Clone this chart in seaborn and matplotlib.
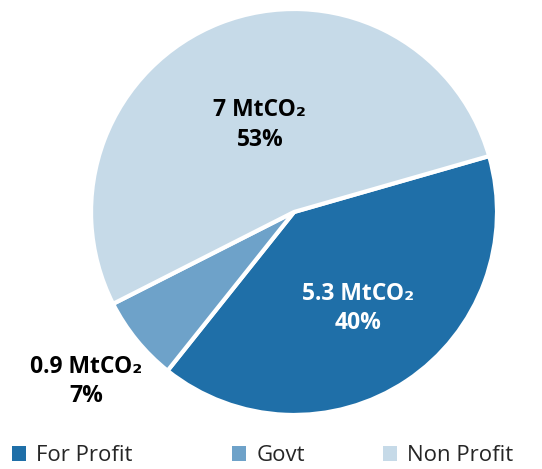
import numpy as np
import matplotlib
matplotlib.use("Agg")
import matplotlib.pyplot as plt
import seaborn as sns
from matplotlib.patches import Patch

# data
sectors = ["For Profit", "Govt", "Non Profit"]
emissions = [5.3, 0.9, 7.0]          # MtCO2
emission_labels = ["5.3", "0.9", "7"]
percent_labels = ["40%", "7%", "53%"]
colors = ["#1f6fa8", "#6ea2c9", "#c6dae8"]

sns.set_theme(style="white")
plt.rcParams["font.family"] = ["Open Sans", "DejaVu Sans"]

fig = plt.figure(figsize=(5.42, 4.69), dpi=100)
ax = fig.add_axes([0.168, 0.115, 0.749, 0.866])

wedges, _ = ax.pie(emissions, colors=colors, startangle=16, counterclock=False,
                   wedgeprops=dict(edgecolor="white", linewidth=3))
ax.set_xlim(-1, 1)
ax.set_ylim(-1, 1)
ax.set_aspect("equal")

# label distance / text colour per slice
label_r = [0.57, 1.32, 0.46]
text_col = ["white", "black", "black"]
for w, em, pc, r, tc in zip(wedges, emission_labels, percent_labels, label_r, text_col):
    mid = np.deg2rad((w.theta1 + w.theta2) / 2)
    x, y = r * np.cos(mid), r * np.sin(mid)
    ax.text(x, y, f"{em} MtCO\u2082\n{pc}", ha="center", va="center",
            fontsize=16.5, fontweight="bold", color=tc, linespacing=1.3)

# legend entries placed along the bottom edge
legend_x = [12, 232, 383]
for name, c, lx in zip(sectors, colors, legend_x):
    fig.legend([Patch(facecolor=c, edgecolor="none")], [name], loc="lower left",
               bbox_to_anchor=(lx / 542, 0.006), frameon=False, fontsize=16,
               handlelength=0.65, handleheight=0.65, handletextpad=0.45,
               borderpad=0, borderaxespad=0)

fig.savefig("out.png", dpi=100)
